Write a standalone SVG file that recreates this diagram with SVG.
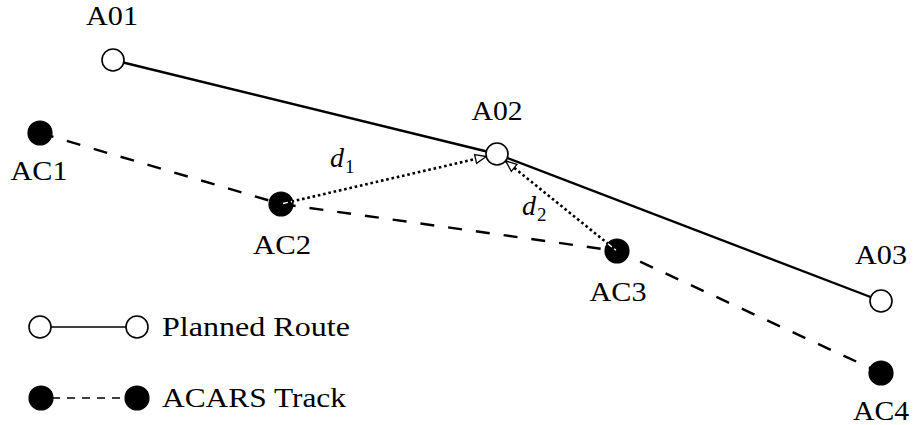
<svg xmlns="http://www.w3.org/2000/svg" width="914" height="425" viewBox="0 0 914 425">
<style>
  text { font-family: 'Liberation Serif', 'DejaVu Serif', serif; fill: #000; }
  .lbl { font-size: 28px; }
  .it { font-style: italic; }
  .sub { font-size: 19px; }
  .wp { fill: #fff; stroke: #000; stroke-width: 1.6; }
  .ac { fill: #000; stroke: #000; stroke-width: 1.2; }
  .route { fill: none; stroke: #000; stroke-width: 2.4; }
  .track { fill: none; stroke: #000; stroke-width: 2.4; stroke-dasharray: 14 14; }
  .dist { fill: none; stroke: #000; stroke-width: 2.6; stroke-dasharray: 2.6 2.8; }
  .glint { fill: none; stroke: #fff; stroke-width: 1.4; stroke-dasharray: 5 3; }
</style>
<defs>
  <marker id="openTri" markerUnits="userSpaceOnUse" markerWidth="13" markerHeight="12" viewBox="0 0 13 12" refX="12" refY="6" orient="auto">
    <path d="M1,1.5 L12,6 L1,10.5 z" fill="#fff" stroke="#000" stroke-width="1.3"/>
  </marker>
</defs>

<g id="connectors">
  <polyline class="route" points="113,60 497,154 881,301"/>
  <polyline class="track" points="40,133 281,204 617,251 881,373"/>
  <line class="dist" x1="281" y1="204" x2="486.3" y2="156.5" marker-end="url(#openTri)"/>
  <line class="dist" x1="617" y1="251" x2="505.6" y2="160.9" marker-end="url(#openTri)"/>
</g>

<g id="A01"><circle class="wp" cx="113" cy="60" r="11"/><text class="lbl" x="112" y="25" text-anchor="middle" textLength="52" lengthAdjust="spacingAndGlyphs">A01</text></g>
<g id="A02"><circle class="wp" cx="497" cy="154" r="11"/><text class="lbl" x="497" y="120" text-anchor="middle" textLength="51" lengthAdjust="spacingAndGlyphs">A02</text></g>
<g id="A03"><circle class="wp" cx="881" cy="301" r="11"/><text class="lbl" x="881" y="264" text-anchor="middle" textLength="52" lengthAdjust="spacingAndGlyphs">A03</text></g>

<g id="AC1"><circle class="ac" cx="40" cy="133" r="12"/><text class="lbl" x="39" y="180" text-anchor="middle" textLength="57" lengthAdjust="spacingAndGlyphs">AC1</text></g>
<g id="AC2"><circle class="ac" cx="281" cy="204" r="12"/><line class="glint" x1="283" y1="203.5" x2="292" y2="201.5"/><text class="lbl" x="282" y="254" text-anchor="middle" textLength="58" lengthAdjust="spacingAndGlyphs">AC2</text></g>
<g id="AC3"><circle class="ac" cx="617" cy="251" r="12"/><line class="glint" x1="608" y1="243.7" x2="616" y2="250.2"/><text class="lbl" x="618" y="301" text-anchor="middle" textLength="57" lengthAdjust="spacingAndGlyphs">AC3</text></g>
<g id="AC4"><circle class="ac" cx="881" cy="373" r="12"/><text class="lbl" x="881" y="420" text-anchor="middle" textLength="56" lengthAdjust="spacingAndGlyphs">AC4</text></g>

<g id="d1"><text class="lbl it" x="330" y="167">d</text><text class="sub" x="345" y="173">1</text></g>
<g id="d2"><text class="lbl it" x="522" y="215">d</text><text class="sub" x="537" y="221">2</text></g>

<g id="legend-route">
  <line x1="51" y1="327" x2="126" y2="327" stroke="#000" stroke-width="1.4"/>
  <circle class="wp" cx="40" cy="327" r="11" stroke-width="1.3"/>
  <circle class="wp" cx="137" cy="327" r="11" stroke-width="1.3"/>
  <text class="lbl" x="162" y="336" textLength="188" lengthAdjust="spacingAndGlyphs">Planned Route</text>
</g>
<g id="legend-track">
  <line x1="52" y1="398" x2="126" y2="398" stroke="#000" stroke-width="1.4" stroke-dasharray="8 7"/>
  <circle class="ac" cx="41" cy="398" r="12"/>
  <circle class="ac" cx="137" cy="398" r="12"/>
  <text class="lbl" x="162" y="407" textLength="184" lengthAdjust="spacingAndGlyphs">ACARS Track</text>
</g>
</svg>
